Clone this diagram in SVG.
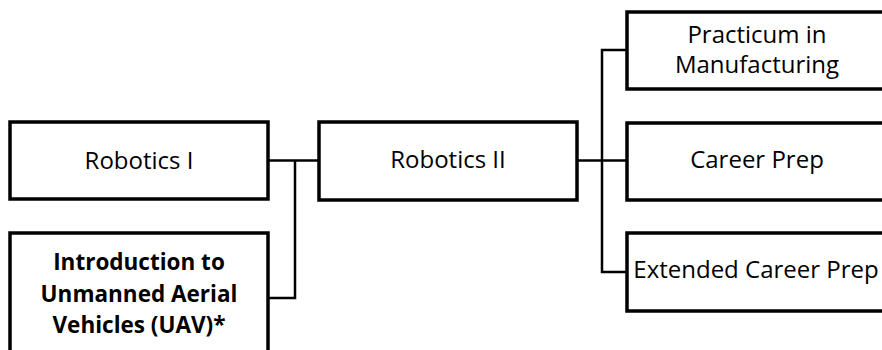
<svg xmlns="http://www.w3.org/2000/svg" width="882" height="350" viewBox="0 0 882 350">
<style>
.box{fill:#fff;stroke:#000;stroke-width:3.5}
.t{font-family:"Open Sans","Liberation Sans",sans-serif;font-size:24px;fill:#000;text-anchor:middle}
.b{font-weight:bold;font-size:22.5px}
.c{fill:none;stroke:#000;stroke-width:2.5}
</style>
<rect width="882" height="350" fill="#fff"/>
<g id="connectors">
<path class="c" d="M268 160.5H319"/>
<path class="c" d="M295 160.5V298H268" />
<path class="c" d="M577 160.5H627"/>
<path class="c" d="M627 50H602V272H627"/>
</g>
<g id="robotics1"><rect class="box" x="10" y="122" width="258" height="77"/><text class="t" x="139" y="169">Robotics I</text></g>
<g id="uav"><rect class="box" x="10" y="233" width="258" height="130"/>
<text class="t b" x="139" y="270">Introduction to</text>
<text class="t b" x="139" y="302">Unmanned Aerial</text>
<text class="t b" x="139" y="333">Vehicles (UAV)*</text></g>
<g id="robotics2"><rect class="box" x="319" y="122" width="258" height="78"/><text class="t" x="448" y="168">Robotics II</text></g>
<g id="practicum"><rect class="box" x="627" y="12" width="258" height="77"/>
<text class="t" x="757" y="43">Practicum in</text>
<text class="t" x="757" y="73">Manufacturing</text></g>
<g id="careerprep"><rect class="box" x="627" y="123" width="258" height="77"/><text class="t" x="757" y="168">Career Prep</text></g>
<g id="extended"><rect class="box" x="627" y="233" width="258" height="78"/><text class="t" x="756" y="278">Extended Career Prep</text></g>
</svg>
